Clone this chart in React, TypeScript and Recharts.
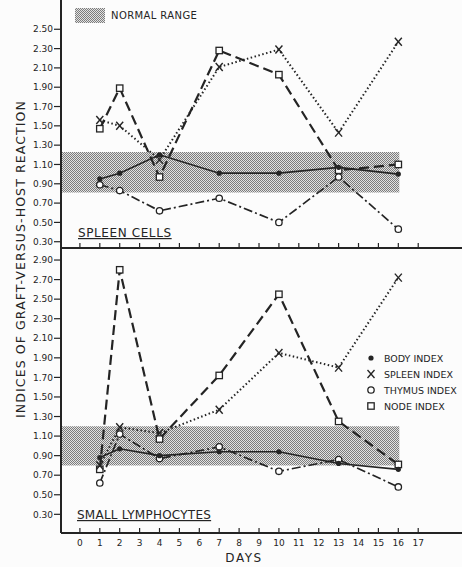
import { LineChart, Line, XAxis, YAxis, ReferenceArea } from 'recharts';

// days on which the indices were measured
const days = [1, 2, 4, 7, 10, 13, 16];

// spleen cells panel
const spleenCellsBody = [0.95, 1.01, 1.2, 1.01, 1.01, 1.07, 1.0];
const spleenCellsSpleen = [1.56, 1.5, 1.15, 2.11, 2.29, 1.43, 2.37];
const spleenCellsThymus = [0.89, 0.83, 0.62, 0.75, 0.5, 0.97, 0.43];
const spleenCellsNode = [1.47, 1.89, 0.97, 2.28, 2.03, 1.04, 1.1];

// small lymphocytes panel
const lymphBody = [0.88, 0.97, 0.9, 0.94, 0.94, 0.82, 0.76];
const lymphSpleen = [0.8, 1.19, 1.13, 1.37, 1.95, 1.8, 2.72];
const lymphThymus = [0.62, 1.12, 0.87, 0.99, 0.74, 0.86, 0.58];
const lymphNode = [0.76, 2.8, 1.07, 1.72, 2.55, 1.25, 0.81];

// normal range bands
const spleenCellsNormal = [0.81, 1.23];
const lymphNormal = [0.8, 1.2];

const dayTicks = [0, 1, 2, 3, 4, 5, 6, 7, 8, 9, 10, 11, 12, 13, 14, 15, 16, 17];
const topTicks = [0.3, 0.5, 0.7, 0.9, 1.1, 1.3, 1.5, 1.7, 1.9, 2.1, 2.3, 2.5];
const bottomTicks = [0.3, 0.5, 0.7, 0.9, 1.1, 1.3, 1.5, 1.7, 1.9, 2.1, 2.3, 2.5, 2.7, 2.9];

const toRows = (body: number[], spleen: number[], thymus: number[], node: number[]) =>
  days.map((day, i) => ({ day, body: body[i], spleen: spleen[i], thymus: thymus[i], node: node[i] }));

const topRows = toRows(spleenCellsBody, spleenCellsSpleen, spleenCellsThymus, spleenCellsNode);
const bottomRows = toRows(lymphBody, lymphSpleen, lymphThymus, lymphNode);

const INK = '#242424';
const FONT = '"DejaVu Sans", sans-serif';

const FilledDot = (p: any) =>
  p.cx == null ? null : <circle key={p.index} cx={p.cx} cy={p.cy} r={2.6} fill={INK} />;
const OpenDot = (p: any) =>
  p.cx == null ? null : <circle key={p.index} cx={p.cx} cy={p.cy} r={3.2} fill="#fff" stroke={INK} strokeWidth={1.3} />;
const SquareDot = (p: any) =>
  p.cx == null ? null : (
    <rect key={p.index} x={p.cx - 3.2} y={p.cy - 3.2} width={6.4} height={6.4} fill="#fff" stroke={INK} strokeWidth={1.3} />
  );
const XDot = (p: any) =>
  p.cx == null ? null : (
    <g key={p.index} stroke={INK} strokeWidth={1.4}>
      <line x1={p.cx - 3.5} y1={p.cy - 4} x2={p.cx + 3.5} y2={p.cy + 4} />
      <line x1={p.cx + 3.5} y1={p.cy - 4} x2={p.cx - 3.5} y2={p.cy + 4} />
    </g>
  );

const UpTick = (p: any) => (
  <line x1={p.x} y1={p.y} x2={p.x} y2={p.y - 5} stroke={INK} strokeWidth={1.2} />
);
const DayTick = (p: any) => (
  <g>
    <line x1={p.x} y1={p.y - 6} x2={p.x} y2={p.y - 11} stroke={INK} strokeWidth={1.2} />
    <text x={p.x} y={p.y + 7} textAnchor="middle" fontSize={9} fontFamily={FONT} fill={INK}>
      {p.payload.value}
    </text>
  </g>
);

const Pattern = ({ id }: { id: string }) => (
  <defs>
    <pattern id={id} width="2" height="2" patternUnits="userSpaceOnUse">
      <rect width="2" height="2" fill="#e2e2e2" />
      <rect width="1" height="1" fill="#7c7c7c" />
      <rect x="1" y="1" width="1" height="1" fill="#7c7c7c" />
    </pattern>
  </defs>
);

const series = (
  <>
    <Line dataKey="node" stroke={INK} strokeWidth={2.2} strokeDasharray="10 5" dot={SquareDot} activeDot={false} isAnimationActive={false} />
    <Line dataKey="spleen" stroke={INK} strokeWidth={2} strokeDasharray="1.5 2.5" dot={XDot} activeDot={false} isAnimationActive={false} />
    <Line dataKey="thymus" stroke={INK} strokeWidth={1.7} strokeDasharray="9 3 2 3" dot={OpenDot} activeDot={false} isAnimationActive={false} />
    <Line dataKey="body" stroke={INK} strokeWidth={1.6} dot={FilledDot} activeDot={false} isAnimationActive={false} />
  </>
);

const yAxisProps = {
  type: 'number' as const,
  width: 61,
  allowDataOverflow: true,
  axisLine: { stroke: INK, strokeWidth: 2 },
  tickLine: { stroke: INK, strokeWidth: 1.2 },
  tickSize: 7,
  tickMargin: 1,
  tick: { fontSize: 9, fontFamily: FONT, fill: INK },
  tickFormatter: (v: number) => v.toFixed(2),
  interval: 0 as const,
};

const legendItems = [
  { label: 'BODY INDEX', Mark: FilledDot },
  { label: 'SPLEEN INDEX', Mark: XDot },
  { label: 'THYMUS INDEX', Mark: OpenDot },
  { label: 'NODE INDEX', Mark: SquareDot },
];

export default function App() {
  return (
    <div style={{ position: 'absolute', left: 0, top: 0, width: 462, height: 567, background: '#fcfcfc', overflow: 'hidden' }}>
      <div style={{ position: 'absolute', left: 0, top: 0 }}>
        <LineChart width={462} height={252} data={topRows} margin={{ top: 0, right: 0, bottom: 0, left: 0 }}>
          <Pattern id="bandTop" />
          <XAxis
            dataKey="day"
            type="number"
            domain={[-0.95, 19.2]}
            allowDataOverflow
            ticks={dayTicks}
            interval={0}
            height={4}
            axisLine={{ stroke: INK, strokeWidth: 2 }}
            tickLine={false}
            tickSize={0}
            tickMargin={0}
            tick={UpTick}
          />
          <YAxis {...yAxisProps} domain={[0.235, 2.803]} ticks={topTicks} />
          <ReferenceArea x1={-0.95} x2={16.05} y1={spleenCellsNormal[0]} y2={spleenCellsNormal[1]} fill="url(#bandTop)" fillOpacity={1} stroke="none" ifOverflow="visible" />
          {series}
        </LineChart>
      </div>
      <div style={{ position: 'absolute', left: 0, top: 248 }}>
        <LineChart width={462} height={319} data={bottomRows} margin={{ top: 0, right: 0, bottom: 0, left: 0 }}>
          <Pattern id="bandBottom" />
          <XAxis
            dataKey="day"
            type="number"
            domain={[-0.95, 19.2]}
            allowDataOverflow
            ticks={dayTicks}
            interval={0}
            height={34}
            axisLine={{ stroke: INK, strokeWidth: 2 }}
            tickLine={false}
            tickSize={0}
            tickMargin={6}
            tick={DayTick}
          />
          <YAxis {...yAxisProps} domain={[0.109, 3.023]} ticks={bottomTicks} />
          <ReferenceArea x1={-0.95} x2={16.05} y1={lymphNormal[0]} y2={lymphNormal[1]} fill="url(#bandBottom)" fillOpacity={1} stroke="none" ifOverflow="visible" />
          {series}
        </LineChart>
      </div>

      {/* titles, panel names and keys */}
      <svg width={462} height={567} style={{ position: 'absolute', left: 0, top: 0, pointerEvents: 'none' }} fontFamily={FONT} fill={INK}>
        <Pattern id="bandKey" />
        <rect x={75} y={8} width={30} height={15} fill="url(#bandKey)" />
        <text x={111} y={19} fontSize={10} letterSpacing={0.4}>NORMAL RANGE</text>

        {legendItems.map(({ label, Mark }, i) => (
          <g key={label}>
            <Mark cx={371} cy={358 + i * 16} index={i} />
            <text x={384} y={362 + i * 16} fontSize={9.5}>{label}</text>
          </g>
        ))}

        <text x={78} y={237} fontSize={12} letterSpacing={0.6} textDecoration="underline">SPLEEN CELLS</text>
        <text x={77} y={519} fontSize={12} letterSpacing={0.25} textDecoration="underline">SMALL LYMPHOCYTES</text>
        <text x={244} y={562} fontSize={12} letterSpacing={1.5} textAnchor="middle">DAYS</text>
        <text x={25} y={259} fontSize={12.5} letterSpacing={1.1} textAnchor="middle" transform="rotate(-90 25 259)">
          INDICES OF GRAFT-VERSUS-HOST REACTION
        </text>
      </svg>
    </div>
  );
}
